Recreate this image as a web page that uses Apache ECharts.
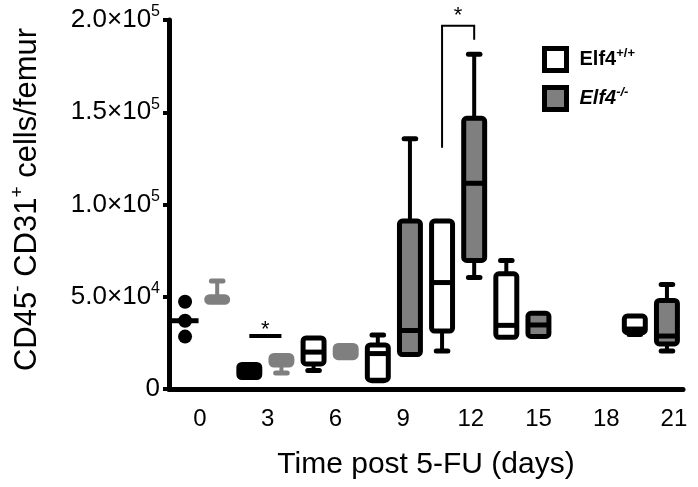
<!DOCTYPE html>
<html>
<head>
<meta charset="utf-8">
<script src="https://cdn.jsdelivr.net/npm/echarts@6/dist/echarts.min.js"></script>
<style>
  html, body { margin: 0; padding: 0; background: #fff; }
  #chart { width: 698px; height: 487px; }
</style>
</head>
<body>
<div id="chart"></div>
<script>
  // ---- data ----
  const days = ['0', '3', '6', '9', '12', '15', '18', '21'];
  const dayLabels = [0, 3, 6, 9, 12, 15, 18, 21];
  const yTicks = [0, 50000, 100000, 150000, 200000];

  // day 0, Elf4+/+ : single mice
  const wtDay0Points = [28400, 37000, 47300];

  // [min, Q1, median, Q3, max] per day, null = no box
  const wtBoxes = [
    null,
    [6000, 6200, 9500, 13300, 13300],
    [10000, 13600, 20000, 27700, 27700],
    [4500, 4800, 19200, 23900, 29300],
    [20600, 31400, 57700, 91000, 91000],
    [28000, 28000, 34500, 62400, 69700],
    null,
    [29500, 30500, 32500, 39500, 39500]
  ];
  const koBoxes = [
    [47000, 47000, 48500, 50000, 58500],
    [8700, 13000, 15000, 18200, 18200],
    [17000, 17000, 20000, 23600, 23600],
    [18700, 18700, 31700, 91000, 135600],
    [60500, 69700, 111500, 146700, 181500],
    [28500, 28500, 34700, 41000, 41000],
    null,
    [20600, 24400, 28700, 48000, 56700]
  ];

  // significance marks
  const day12Bracket = [130700, 189300, 196900, 204500]; // left leg end, right leg end, top, star
  const day3Bar = [28700, 34200];                         // line, star

  // ---- styling ----
  const GREY = '#7f7f7f';
  const FONT = 'Liberation Sans';
  const koGreyEdgeDays = [0, 1, 2];
  const wtSolidDays = [1];
  // value range of the label axis so day labels sit where the figure prints them
  const labelAxisMin = -1.37, labelAxisMax = 21.4;

  function line(x1, y1, x2, y2, color, w, cap) {
    return {
      type: 'line',
      shape: {x1: x1, y1: y1, x2: x2, y2: y2},
      style: {stroke: color, lineWidth: w, lineCap: cap || 'butt'}
    };
  }

  function boxRenderer(side, styleOf) {
    return function (params, api) {
      const i = api.value(0);
      const band = api.size([1, 0])[0];
      const cx = api.coord([i, 0])[0] + side * band / 4;
      const ys = [1, 2, 3, 4, 5].map(k => api.coord([i, api.value(k)])[1]);
      const yMin = ys[0], yQ1 = ys[1], yMed = ys[2], yQ3 = ys[3], yMax = ys[4];
      const hw = band * 0.163, cw = band * 0.09;
      const s = styleOf(i);
      const kids = [];
      if (yMax < yQ3 - 0.5) {
        kids.push(line(cx, yMax, cx, yQ3, s.edge, 4));
        kids.push(line(cx - cw, yMax, cx + cw, yMax, s.edge, 5, 'round'));
      }
      if (yMin > yQ1 + 0.5) {
        kids.push(line(cx, yQ1, cx, yMin, s.edge, 4));
        kids.push(line(cx - cw, yMin, cx + cw, yMin, s.edge, 5, 'round'));
      }
      kids.push({
        type: 'rect',
        shape: {x: cx - hw, y: yQ3, width: hw * 2, height: yQ1 - yQ3, r: 3},
        style: {fill: s.fill, stroke: s.edge, lineWidth: 5, lineJoin: 'round'}
      });
      kids.push(line(cx - hw, yMed, cx + hw, yMed, s.edge, 5));
      return {type: 'group', children: kids};
    };
  }

  const wtStyle = i => wtSolidDays.includes(i) ? {fill: '#000', edge: '#000'} : {fill: '#fff', edge: '#000'};
  const koStyle = i => koGreyEdgeDays.includes(i) ? {fill: GREY, edge: GREY} : {fill: GREY, edge: '#000'};

  const toItems = boxes => boxes.map((b, i) => b && [i].concat(b)).filter(Boolean);

  const sorted = wtDay0Points.slice().sort((a, b) => a - b);
  const wtDay0Median = sorted[Math.floor(sorted.length / 2)];

  function sup(v) {
    if (v === 0) return '{n|0}';
    const e = Math.floor(Math.log10(v));
    return '{n|' + (v / Math.pow(10, e)).toFixed(1) + '×10}{s|' + e + '}';
  }

  const chart = echarts.init(document.getElementById('chart'));
  chart.setOption({
    animation: false,
    textStyle: {fontFamily: FONT, color: '#000'},
    grid: {left: 167, right: 15, top: 20, bottom: 98},
    legend: {
      orient: 'vertical',
      left: 542,
      top: 46,
      padding: 0,
      itemWidth: 22,
      itemHeight: 22,
      itemGap: 12,
      data: [
        {name: 'Elf4+/+', icon: 'rect', itemStyle: {color: '#fff', borderColor: '#000', borderWidth: 5}},
        {name: 'Elf4-/-', icon: 'rect', itemStyle: {color: GREY, borderColor: '#000', borderWidth: 5}}
      ],
      formatter: name => name === 'Elf4+/+' ? '{m|Elf4}{s|+/+}' : '{mi|Elf4}{si|-/-}',
      textStyle: {
        rich: {
          m: {fontFamily: FONT, fontWeight: 'bold', fontSize: 20, lineHeight: 26, padding: [0, 0, 0, 8]},
          s: {fontFamily: FONT, fontWeight: 'bold', fontSize: 13, verticalAlign: 'top'},
          mi: {fontFamily: FONT, fontWeight: 'bold', fontStyle: 'italic', fontSize: 20, lineHeight: 26, padding: [0, 0, 0, 8]},
          si: {fontFamily: FONT, fontWeight: 'bold', fontStyle: 'italic', fontSize: 13, verticalAlign: 'top'}
        }
      }
    },
    xAxis: [{
      type: 'category',
      position: 'bottom',
      data: days,
      name: 'Time post 5-FU (days)',
      nameLocation: 'middle',
      nameGap: 61,
      nameTextStyle: {fontFamily: FONT, fontSize: 30, color: '#000'},
      axisLine: {lineStyle: {color: '#000', width: 5}},
      axisTick: {length: 7, lineStyle: {color: '#000', width: 3}},
      axisLabel: {show: false},
      splitLine: {show: false}
    }, {
      type: 'value',
      position: 'bottom',
      min: labelAxisMin,
      max: labelAxisMax,
      axisLine: {show: false},
      axisTick: {show: false},
      splitLine: {show: false},
      axisLabel: {
        customValues: dayLabels,
        margin: 18,
        fontFamily: FONT,
        fontSize: 24,
        color: '#000',
        formatter: v => String(v)
      }
    }],
    yAxis: {
      type: 'value',
      min: yTicks[0],
      max: yTicks[yTicks.length - 1],
      interval: yTicks[1] - yTicks[0],
      name: '{n|CD45}{s|-}{n| CD31}{s|+}{n| cells/femur}',
      nameLocation: 'middle',
      nameRotate: 90,
      nameGap: 123,
      nameTextStyle: {
        padding: [0, 0, 0, 10],
        rich: {
          n: {fontFamily: FONT, fontSize: 31, lineHeight: 38, color: '#000'},
          s: {fontFamily: FONT, fontSize: 19, verticalAlign: 'top', color: '#000'}
        }
      },
      axisLine: {show: true, onZero: false, lineStyle: {color: '#000', width: 5}},
      axisTick: {show: true, length: 6, lineStyle: {color: '#000', width: 4}},
      splitLine: {show: false},
      axisLabel: {
        margin: 9,
        formatter: sup,
        rich: {
          n: {fontFamily: FONT, fontSize: 26, lineHeight: 32, color: '#000'},
          s: {fontFamily: FONT, fontSize: 16, verticalAlign: 'top', color: '#000'}
        }
      }
    },
    series: [{
      name: 'Elf4+/+',
      type: 'custom',
      xAxisIndex: 0,
      itemStyle: {color: '#fff', borderColor: '#000'},
      encode: {x: 0, y: [1, 2, 3, 4, 5]},
      data: toItems(wtBoxes),
      renderItem: boxRenderer(-1, wtStyle)
    }, {
      name: 'Elf4-/-',
      type: 'custom',
      xAxisIndex: 0,
      itemStyle: {color: GREY, borderColor: '#000'},
      encode: {x: 0, y: [1, 2, 3, 4, 5]},
      data: toItems(koBoxes),
      renderItem: boxRenderer(1, koStyle)
    }, {
      // day 0 Elf4+/+ dots
      type: 'custom',
      xAxisIndex: 0,
      encode: {x: 0, y: 1},
      data: wtDay0Points.map(v => [0, v]),
      renderItem: function (params, api) {
        const band = api.size([1, 0])[0];
        const p = api.coord([api.value(0), api.value(1)]);
        return {type: 'circle', shape: {cx: p[0] - band / 4, cy: p[1], r: 7}, style: {fill: '#000'}};
      }
    }, {
      // median line over the day 0 dots
      type: 'custom',
      xAxisIndex: 0,
      encode: {x: 0, y: 1},
      data: [[0, wtDay0Median]],
      renderItem: function (params, api) {
        const band = api.size([1, 0])[0];
        const p = api.coord([api.value(0), api.value(1)]);
        const cx = p[0] - band / 4;
        return line(cx - band * 0.21, p[1], cx + band * 0.21, p[1], '#000', 5);
      }
    }, {
      // significance marks
      type: 'custom',
      xAxisIndex: 0,
      encode: {x: 0, y: 1},
      data: [[0, 0]],
      renderItem: function (params, api) {
        const band = api.size([1, 0])[0];
        const b = days.indexOf('12');
        const xl = api.coord([b, 0])[0] - band / 4;
        const xr = api.coord([b, 0])[0] + band / 4;
        const y = v => api.coord([0, v])[1];
        const d = days.indexOf('3');
        const x3l = api.coord([d, 0])[0] - band / 4;
        const x3r = api.coord([d, 0])[0] + band / 4;
        const star = (x, yy) => ({
          type: 'text',
          style: {text: '*', x: x, y: yy, font: '22px ' + FONT, fill: '#000', textAlign: 'center', textVerticalAlign: 'middle'}
        });
        return {
          type: 'group',
          children: [
            {
              type: 'polyline',
              shape: {points: [[xl, y(day12Bracket[0])], [xl, y(day12Bracket[2])], [xr, y(day12Bracket[2])], [xr, y(day12Bracket[1])]]},
              style: {stroke: '#000', lineWidth: 2, fill: null}
            },
            star((xl + xr) / 2, y(day12Bracket[3]) + 4),
            line(x3l, y(day3Bar[0]), x3r, y(day3Bar[0]), '#000', 4),
            star((x3l + x3r) / 2, y(day3Bar[1]) + 4)
          ]
        };
      }
    }]
  });
</script>
</body>
</html>
